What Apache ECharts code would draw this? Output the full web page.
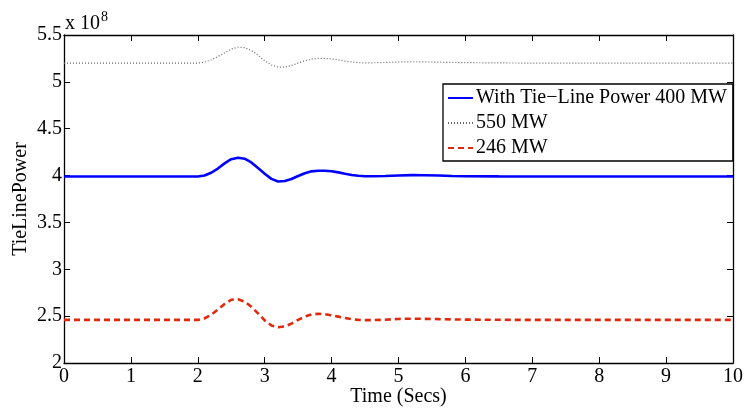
<!DOCTYPE html>
<html>
<head>
<meta charset="utf-8">
<script src="https://cdn.jsdelivr.net/npm/echarts@6/dist/echarts.min.js"></script>
<style>
  html, body { margin: 0; padding: 0; background: #fff; }
  #chart { width: 747px; height: 409px; }
</style>
</head>
<body>
<div id="chart"></div>
<script>
// Tie-line power response after a disturbance at t = 2 s (values in units of 1e8 W)
const timeSecs = [0, 1, 2.0, 2.1, 2.2, 2.3, 2.4, 2.5, 2.6, 2.7, 2.8, 2.9, 3.0, 3.1, 3.2, 3.3, 3.4, 3.5,
  3.6, 3.7, 3.8, 3.9, 4.0, 4.1, 4.2, 4.3, 4.4, 4.5, 4.6, 4.8, 5.0, 5.2, 5.4, 5.6, 5.8, 6.0, 6.5, 7, 8, 9, 10];

const power400 = [3.99, 3.99, 3.99, 4.0, 4.03, 4.075, 4.13, 4.175, 4.19, 4.18, 4.14, 4.08, 4.02, 3.965, 3.937, 3.942, 3.963, 3.995,
  4.025, 4.045, 4.052, 4.052, 4.046, 4.034, 4.02, 4.007, 3.998, 3.993, 3.992, 3.995, 4.0, 4.005, 4.004, 4.0, 3.996, 3.993, 3.991, 3.99, 3.99, 3.99, 3.99];

const power550 = [5.2, 5.2, 5.2, 5.21, 5.235, 5.27, 5.31, 5.35, 5.37, 5.365, 5.335, 5.285, 5.225, 5.18, 5.157, 5.158, 5.175, 5.2,
  5.225, 5.243, 5.25, 5.25, 5.245, 5.235, 5.222, 5.212, 5.205, 5.202, 5.203, 5.207, 5.212, 5.215, 5.213, 5.21, 5.207, 5.205, 5.202, 5.2, 5.2, 5.2, 5.2];

const power246 = [2.46, 2.46, 2.46, 2.475, 2.515, 2.57, 2.63, 2.675, 2.68, 2.655, 2.6, 2.53, 2.455, 2.4, 2.382, 2.39, 2.42, 2.46,
  2.495, 2.518, 2.525, 2.52, 2.508, 2.495, 2.48, 2.468, 2.46, 2.457, 2.457, 2.462, 2.47, 2.473, 2.471, 2.468, 2.465, 2.463, 2.461, 2.46, 2.46, 2.46, 2.46];

const xTicks = [0, 1, 2, 3, 4, 5, 6, 7, 8, 9, 10];
const yTicks = [2, 2.5, 3, 3.5, 4, 4.5, 5, 5.5];
const seriesNames = ['With Tie\u2212Line Power 400 MW', '550 MW', '246 MW'];

const pairs = (vals) => timeSecs.map((t, i) => [t, vals[i]]);
const serif = 'Liberation Serif';
const fs = 20;

const chart = echarts.init(document.getElementById('chart'), null, { renderer: 'canvas' });

const tickStyle = { show: true, inside: true, length: 6, lineStyle: { color: '#000', width: 1 } };
const lineStyleAxis = { show: true, onZero: false, lineStyle: { color: '#000', width: 1.3 } };

chart.setOption({
  animation: false,
  backgroundColor: '#fff',
  grid: { left: 64, right: 14, top: 35, bottom: 46, containLabel: false, outerBoundsMode: 'none' },
  xAxis: [{
    type: 'value', min: xTicks[0], max: xTicks[xTicks.length - 1], interval: 1,
    name: 'Time (Secs)', nameLocation: 'middle', nameGap: 24, nameMoveOverlap: false,
    nameTextStyle: { fontFamily: serif, fontSize: fs, color: '#000' },
    axisLine: lineStyleAxis, axisTick: tickStyle,
    axisLabel: { fontFamily: serif, fontSize: fs, color: '#000', margin: 4 },
    splitLine: { show: false }
  }, {
    type: 'value', position: 'top', min: xTicks[0], max: xTicks[xTicks.length - 1], interval: 1,
    axisLine: lineStyleAxis, axisTick: tickStyle, axisLabel: { show: false }, splitLine: { show: false }
  }],
  yAxis: [{
    type: 'value', min: yTicks[0], max: yTicks[yTicks.length - 1], interval: 0.5,
    name: 'TieLinePower', nameLocation: 'middle', nameGap: 33, nameMoveOverlap: false,
    nameTextStyle: { fontFamily: serif, fontSize: fs, color: '#000' },
    axisLine: lineStyleAxis, axisTick: tickStyle,
    axisLabel: { fontFamily: serif, fontSize: fs, color: '#000', margin: 2 },
    splitLine: { show: false }
  }, {
    type: 'value', position: 'right', min: yTicks[0], max: yTicks[yTicks.length - 1], interval: 0.5,
    axisLine: lineStyleAxis, axisTick: tickStyle, axisLabel: { show: false }, splitLine: { show: false }
  }],
  legend: {
    orient: 'vertical', left: 443, top: 84,
    data: seriesNames,
    itemWidth: 25, itemHeight: 14, itemGap: 5,
    padding: [4, 6, 3, 4],
    borderColor: '#000', borderWidth: 1.3,
    backgroundColor: '#fff',
    itemStyle: { opacity: 0 },
    textStyle: { fontFamily: serif, fontSize: fs, color: '#000', padding: [0, 0, 0, -2] }
  },
  graphic: [{
    type: 'text', left: 65, top: 10,
    style: {
      text: '{a|x 10}{b|8}',
      rich: {
        a: { fontFamily: serif, fontSize: fs, fill: '#000', verticalAlign: 'bottom' },
        b: { fontFamily: serif, fontSize: 14, fill: '#000', verticalAlign: 'top', padding: [0, 0, 10, 1] }
      }
    }
  }],
  series: [{
    name: seriesNames[0], type: 'line', symbol: 'none', z: 3,
    data: pairs(power400),
    lineStyle: { color: '#0000ff', width: 2.6 }, itemStyle: { color: '#0000ff' }
  }, {
    name: seriesNames[1], type: 'line', symbol: 'none', z: 2,
    data: pairs(power550),
    lineStyle: { color: '#666666', width: 1.2, type: [1, 2] }, itemStyle: { color: '#666666' }
  }, {
    name: seriesNames[2], type: 'line', symbol: 'none', z: 2,
    data: pairs(power246),
    lineStyle: { color: '#e0290c', width: 2.6, type: [6, 4] }, itemStyle: { color: '#e0290c' }
  }]
});
</script>
</body>
</html>
